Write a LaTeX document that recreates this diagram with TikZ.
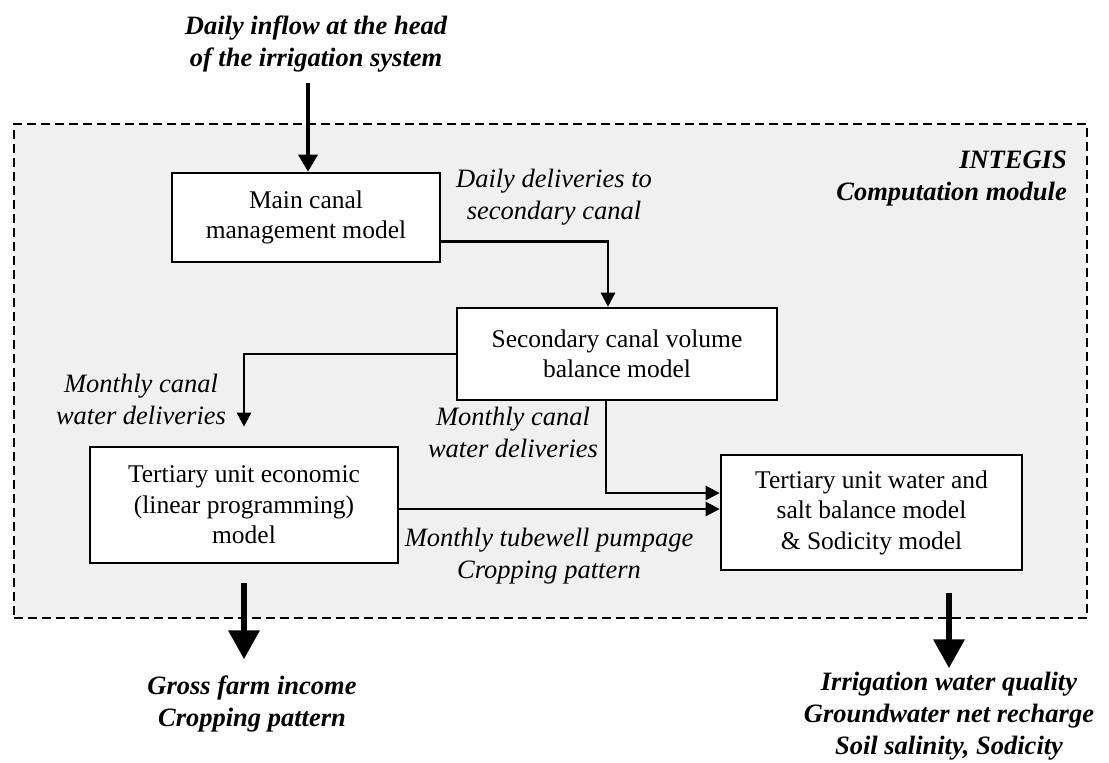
\documentclass[tikz,border=0pt]{standalone}
\usepackage{fontspec}
\setmainfont{Liberation Serif}
\usetikzlibrary{arrows.meta}
\begin{document}
\begin{tikzpicture}[x=1pt,y=-1pt,
  model/.style={draw, line width=2.6pt, fill=white, align=center, inner sep=0pt,
    font=\fontsize{25.5}{30.5}\selectfont},
  lab/.style={align=center, inner sep=0pt, font=\fontsize{26.5}{32}\selectfont\itshape},
  blab/.style={align=center, inner sep=0pt, font=\fontsize{26.5}{32}\selectfont\bfseries\itshape},
  conn/.style={line width=2.6pt, -{Triangle[length=14pt,width=14pt]}},
  inarrow/.style={line width=3.8pt, -{Triangle[length=17pt,width=19pt]}},
  outarrow/.style={line width=6.5pt, -{Triangle[length=29pt,width=30pt]}},
  frame/.style={draw, dash pattern=on 9pt off 5pt, line width=2pt, fill=black!6, inner sep=0pt}
]
\useasboundingbox (0,0) rectangle (1109,763);

% module frame
\node[frame, minimum width=1073pt, minimum height=494pt] (frame) at (550.5,371) {};
\node[blab, anchor=east, align=right] (integis) at (1067,178.5) {INTEGIS\\Computation module};

% models
\node[model, minimum width=268pt, minimum height=89pt] (main) at (306,217.5) {Main canal\\management model};
\node[model, minimum width=320pt, minimum height=92pt] (sec) at (617,354) {Secondary canal volume\\balance model};
\node[model, minimum width=308pt, minimum height=116pt] (econ) at (244,505) {Tertiary unit economic\\(linear programming)\\model};
\node[model, minimum width=301pt, minimum height=115pt] (water) at (871.5,512.5) {Tertiary unit water and\\salt balance model\\\& Sodicity model};

% inflow
\node[blab] (inflow) at (316,44) {Daily inflow at the head\\of the irrigation system};
\coordinate (inflowstart) at (308,83);
\draw[inarrow] (inflowstart) -- (inflowstart |- main.north);

% connectors
\draw[conn] ([yshift=-24pt]main.east) -| ([xshift=-9pt]sec.north);
\node[lab] (daily) at (554,197) {Daily deliveries to\\secondary canal};

\draw[conn, shorten >=19pt] (sec.west) -| (econ.north);
\node[lab] (mcw1) at (141,399) {Monthly canal\\water deliveries};

\draw[conn] ([xshift=-11pt]sec.south) |- ([yshift=19.5pt]water.west);
\node[lab] (mcw2) at (513,432) {Monthly canal\\water deliveries};

\draw[conn] ([yshift=-4pt]econ.east) -- ([yshift=-4pt]econ.east -| water.west);
\node[lab] (tube) at (549,556) {Monthly tubewell pumpage\\Cropping pattern};

% outputs
\draw[outarrow, shorten <=19pt] (econ.south) -- ++(0,95);
\node[blab] (gross) at (252,704) {Gross farm income\\Cropping pattern};

\draw[outarrow, shorten <=22pt] ([xshift=77.5pt]water.south) -- ++(0,97);
\node[blab] (quality) at (949,716) {Irrigation water quality\\Groundwater net recharge\\Soil salinity, Sodicity};
\end{tikzpicture}
\end{document}
